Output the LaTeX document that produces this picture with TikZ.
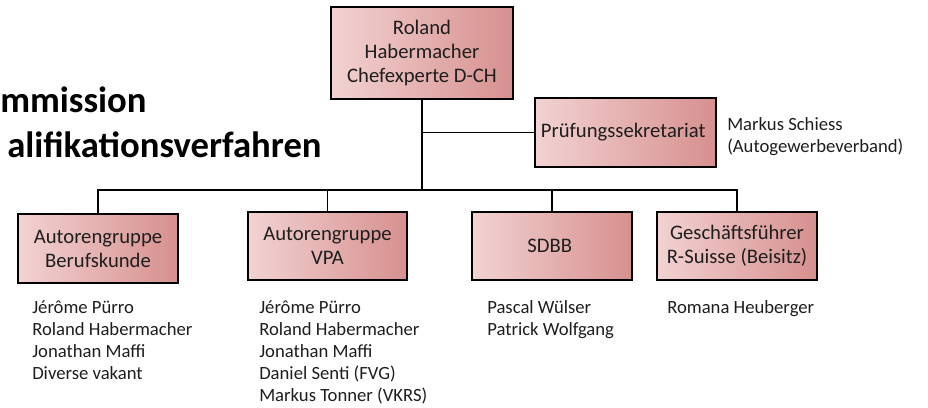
\documentclass[tikz,border=0pt]{standalone}
\usepackage{fontspec}
\setmainfont{Carlito}
\definecolor{boxlight}{RGB}{242, 210, 210}
\definecolor{boxdark}{RGB}{214, 144, 142}
\definecolor{inkgray}{RGB}{30, 30, 30}
\usetikzlibrary{positioning, calc}

\tikzset{
  orgbox/.style={draw=black, line width=1.2pt, shade, left color=boxlight, right color=boxdark,
    align=center, inner sep=2pt, text=inkgray, font=\fontsize{15.5}{18}\selectfont},
  % base sits on the last line of a list
  namelist/.style={align=left, anchor=base west, inner sep=0pt, text=inkgray,
    font=\fontsize{14}{16.5}\selectfont},
  titletext/.style={anchor=base west, inner sep=0pt, font=\fontsize{27.5}{33}\selectfont\bfseries},
  orgline/.style={draw=black, line width=1.3pt}
}

\begin{document}
\begin{tikzpicture}[x=0.75pt, y=-0.75pt]
  \useasboundingbox (0,0) rectangle (928,407);

  % Title
  \node[titletext] (title1) at (0, 112) {mmission};
  \node[titletext] (title2) at (7, 157) {alifikationsverfahren};

  % Chefexperte
  \node[orgbox, minimum width=136.5pt, minimum height=69pt] (chef) at (422, 53) {
    Roland\\Habermacher\\Chefexperte D-CH
  };

  % Pruefungssekretariat
  \node[orgbox, minimum width=135.75pt, minimum height=51.75pt] (pruef) at (625.5, 132.5) {
    Prüfungssekretariat
  };
  \node[namelist] (pruefnames) at (727, 152) {
    Markus Schiess\\(Autogewerbeverband)
  };

  % Groups
  \node[orgbox, minimum width=120pt, minimum height=51.75pt] (beruf) at (98, 248.5) {
    Autorengruppe\\Berufskunde
  };
  \node[orgbox, minimum width=119.25pt, minimum height=51pt] (vpa) at (327.5, 246) {
    Autorengruppe\\VPA
  };
  \node[orgbox, minimum width=120pt, minimum height=51pt] (sdbb) at (552, 246) {
    SDBB
  };
  \node[orgbox, minimum width=120pt, minimum height=51pt] (gf) at (737, 246) {
    Geschäftsführer\\R-Suisse (Beisitz)
  };

  % Members
  \node[namelist] (berufnames) at (32, 379) {
    Jérôme Pürro\\Roland Habermacher\\Jonathan Maffi\\Diverse vakant
  };
  \node[namelist] (vpanames) at (259, 401) {
    Jérôme Pürro\\Roland Habermacher\\Jonathan Maffi\\Daniel Senti (FVG)\\Markus Tonner (VKRS)
  };
  \node[namelist] (sdbbnames) at (487, 335) {
    Pascal Wülser\\Patrick Wolfgang
  };
  \node[namelist] (gfnames) at (667, 313) {
    Romana Heuberger
  };

  % Connectors
  \coordinate (bus) at (422, 190);
  \draw[orgline] (chef.south) -- (bus);
  \draw[orgline, line width=1.1pt] (chef.south |- pruef.west) -- (pruef.west);
  \draw[orgline] (beruf.north) -- (beruf.north |- bus) -- (gf.north |- bus) -- (gf.north);
  \draw[orgline] (vpa.north |- bus) -- (vpa.north);
  \draw[orgline] (sdbb.north |- bus) -- (sdbb.north);
\end{tikzpicture}
\end{document}
